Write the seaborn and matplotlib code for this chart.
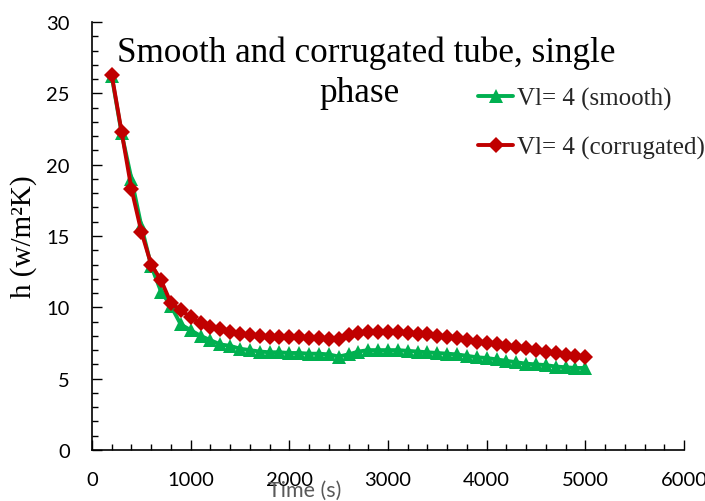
import matplotlib
matplotlib.use("Agg")
import matplotlib.pyplot as plt
import seaborn as sns
import pandas as pd
from matplotlib.ticker import MultipleLocator

time_s = [200, 300, 400, 500, 600, 700, 800, 900, 1000, 1100, 1200, 1300, 1400,
          1500, 1600, 1700, 1800, 1900, 2000, 2100, 2200, 2300, 2400, 2500, 2600,
          2700, 2800, 2900, 3000, 3100, 3200, 3300, 3400, 3500, 3600, 3700, 3800,
          3900, 4000, 4100, 4200, 4300, 4400, 4500, 4600, 4700, 4800, 4900, 5000]

h_smooth = [26.2, 22.2, 19.0, 15.7, 12.9, 11.1, 10.1, 8.8, 8.4, 8.0, 7.7, 7.4, 7.3,
            7.1, 7.0, 6.9, 6.85, 6.85, 6.8, 6.8, 6.75, 6.75, 6.7, 6.55, 6.7,
            6.9, 7.0, 7.0, 7.0, 7.0, 6.95, 6.9, 6.85, 6.8, 6.75, 6.7, 6.6,
            6.5, 6.45, 6.35, 6.25, 6.15, 6.05, 6.0, 5.95, 5.85, 5.8, 5.75, 5.75]

h_corrugated = [26.3, 22.3, 18.3, 15.3, 13.0, 11.9, 10.3, 9.8, 9.3, 8.9, 8.6, 8.5, 8.3,
                8.15, 8.05, 8.0, 7.95, 7.95, 7.9, 7.9, 7.85, 7.85, 7.75, 7.8, 8.05,
                8.2, 8.25, 8.25, 8.25, 8.25, 8.2, 8.15, 8.1, 8.0, 7.95, 7.85, 7.7,
                7.6, 7.5, 7.4, 7.3, 7.2, 7.15, 7.0, 6.9, 6.8, 6.65, 6.6, 6.5]

series_labels = ["Vl= 4 (smooth)", "Vl= 4 (corrugated)"]
x_ticks = [0, 1000, 2000, 3000, 4000, 5000, 6000]
y_ticks = [0, 5, 10, 15, 20, 25, 30]
title_line1 = "Smooth and corrugated tube, single"
title_line2 = "phase"

sns.set_style("white")
plt.rcParams["font.family"] = ["Liberation Serif", "DejaVu Serif"]

fig = plt.figure(figsize=(7.05, 5.02), dpi=100)
ax = fig.add_axes([92 / 705, 51 / 502, (684 - 92) / 705, (451 - 23) / 502])

df_s = pd.DataFrame({"t": time_s, "h": h_smooth})
df_c = pd.DataFrame({"t": time_s, "h": h_corrugated})

sns.lineplot(data=df_s, x="t", y="h", ax=ax, color="#00B050", lw=2.8,
             marker="^", markersize=10, markeredgewidth=0, label=series_labels[0])
sns.lineplot(data=df_c, x="t", y="h", ax=ax, color="#C00000", lw=2.8,
             marker="D", markersize=8.5, markeredgewidth=0, label=series_labels[1])

ax.set_xlim(0, 6000)
ax.set_ylim(0, 30)
ax.set_xticks(x_ticks)
ax.set_yticks(y_ticks)
ax.xaxis.set_minor_locator(MultipleLocator(200))
ax.yaxis.set_minor_locator(MultipleLocator(1))
ax.tick_params(which="both", direction="in", color="black", width=1.0,
               bottom=True, left=True, top=False, right=False)
ax.tick_params(which="major", length=7)
ax.tick_params(which="minor", length=4)
ax.tick_params(axis="y", which="major", pad=16)
ax.tick_params(axis="x", which="major", pad=15)
for lab in ax.get_xticklabels() + ax.get_yticklabels():
    lab.set_fontfamily(["Lato", "DejaVu Sans"])
    lab.set_fontsize(14.5)
    lab.set_color("black")

for s in ["top", "right"]:
    ax.spines[s].set_visible(False)
for s in ["left", "bottom"]:
    ax.spines[s].set_color("black")
    ax.spines[s].set_linewidth(1.2)

ax.set_xlabel("")
ax.set_ylabel("")
fig.text(24 / 705, 1 - 237 / 502, "h (w/m²K)", rotation=90, ha="center",
         va="center", fontsize=21, color="black")

fig.text(305 / 705, 1 - 491 / 502, "Time (s)", ha="center", va="center",
         fontsize=15.5, color="#595959", family=["Lato", "DejaVu Sans"])

fig.text(366 / 705, 1 - 62 / 502, title_line1, ha="center", va="baseline",
         fontsize=25.3, color="black")
fig.text(360 / 705, 1 - 102 / 502, title_line2, ha="center", va="baseline",
         fontsize=25.3, color="black")

leg = ax.legend(loc="upper left", bbox_to_anchor=(478 / 705, 1 - 88 / 502),
                bbox_transform=fig.transFigure, frameon=False, fontsize=18,
                handlelength=1.4, handletextpad=0.15, labelspacing=1.05,
                borderpad=0, borderaxespad=0)

fig.savefig("out.png", dpi=100)
